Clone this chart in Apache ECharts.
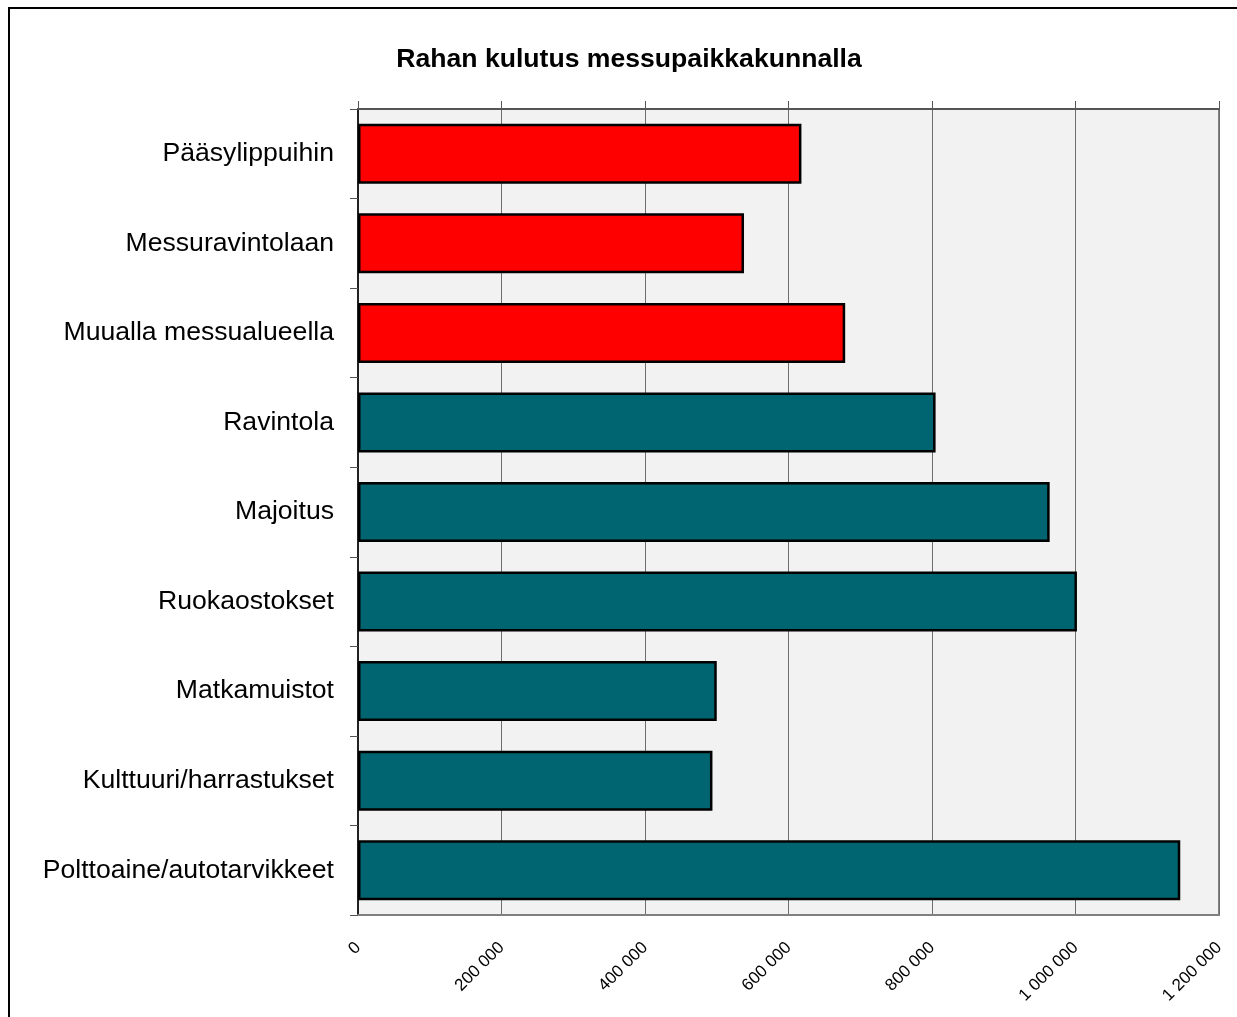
<!DOCTYPE html>
<html>
<head>
<meta charset="utf-8">
<script src="https://cdn.jsdelivr.net/npm/echarts@6/dist/echarts.min.js"></script>
<style>
  html, body { margin: 0; padding: 0; background: #fff; }
  #chart { width: 1237px; height: 1017px; }
</style>
</head>
<body>
<div id="chart"></div>
<script>
// data
const categories = [
  'Pääsylippuihin',
  'Messuravintolaan',
  'Muualla messualueella',
  'Ravintola',
  'Majoitus',
  'Ruokaostokset',
  'Matkamuistot',
  'Kulttuuri/harrastukset',
  'Polttoaine/autotarvikkeet'
]
const values = [618000, 538000, 679000, 805000, 964000, 1002000, 500000, 494000, 1146000]
// first three are spent at the fair area itself
const fairAreaCount = 3
const axisMax = 1200000
const axisStep = 200000

const chart = echarts.init(document.getElementById('chart'))

const fmt = v => String(v).replace(/\B(?=(\d{3})+(?!\d))/g, ' ')

chart.setOption({
  animation: false,
  textStyle: { fontFamily: 'Liberation Sans, Arial, sans-serif' },
  title: {
    text: 'Rahan kulutus messupaikkakunnalla',
    left: 624,
    textAlign: 'center',
    top: 41,
    textStyle: { fontSize: 26.6, fontWeight: 'bold', color: '#000' }
  },
  graphic: [{
    type: 'rect',
    shape: { x: 9, y: 8, width: 1240, height: 1020 },
    style: { fill: 'none', stroke: '#000', lineWidth: 2 },
    silent: true
  }],
  grid: {
    left: 358, top: 109, right: 18, bottom: 102,
    show: true,
    backgroundColor: '#f2f2f2',
    borderColor: '#808080',
    borderWidth: 2
  },
  xAxis: [{
    type: 'value',
    position: 'bottom',
    min: 0, max: axisMax, interval: axisStep,
    axisLine: { show: true, lineStyle: { color: '#808080', width: 2 } },
    axisTick: { show: false },
    splitLine: { show: true, lineStyle: { color: '#6e6e6e', width: 1 } },
    axisLabel: {
      rotate: 45, margin: 30, fontSize: 17, color: '#000',
      formatter: fmt
    }
  }, {
    type: 'value',
    position: 'top',
    min: 0, max: axisMax, interval: axisStep,
    axisLine: { show: true, lineStyle: { color: '#555', width: 2 } },
    axisTick: { show: true, inside: false, length: 8, lineStyle: { color: '#555' } },
    splitLine: { show: false },
    axisLabel: { show: false }
  }],
  yAxis: {
    type: 'category',
    inverse: true,
    data: categories,
    axisLine: { show: true, lineStyle: { color: '#222', width: 2 } },
    axisTick: { show: true, length: 8, alignWithLabel: false, lineStyle: { color: '#555' } },
    axisLabel: { fontSize: 26.6, color: '#000', margin: 24, padding: [6, 0, 0, 0] }
  },
  series: [{
    type: 'bar',
    xAxisIndex: 0,
    data: values,
    barCategoryGap: '33%',
    itemStyle: {
      color: p => p.dataIndex < fairAreaCount ? '#ff0000' : '#006570',
      borderColor: '#000',
      borderWidth: 2.5
    }
  }]
})
</script>
</body>
</html>
